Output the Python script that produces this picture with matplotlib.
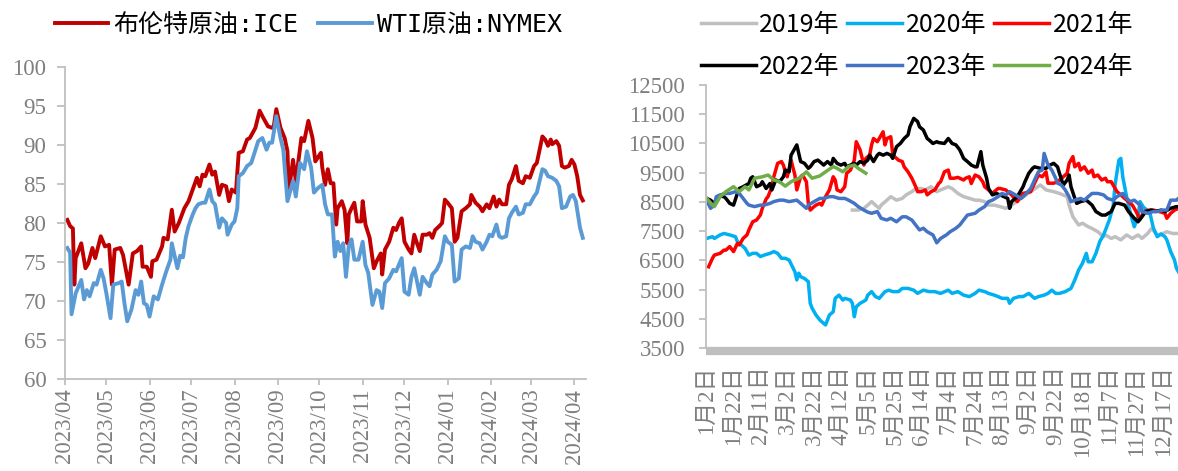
import numpy as np
import pandas as pd
import matplotlib
matplotlib.use("Agg")
import matplotlib.pyplot as plt
import matplotlib.dates as mdates
from matplotlib.font_manager import FontProperties

TICK_FAMILY = ["Liberation Serif", "DejaVu Serif", "Noto Sans CJK SC"]
plt.rcParams["font.family"] = TICK_FAMILY

# ─── 左图：布伦特 / WTI 原油价格 ─────────────────────────────────────────────
brent_dates = [
    "2023-04-03", "2023-04-05", "2023-04-07", "2023-04-08", "2023-04-09", "2023-04-13",
    "2023-04-16", "2023-04-18", "2023-04-21", "2023-04-23", "2023-04-27", "2023-04-30",
    "2023-05-03", "2023-05-05", "2023-05-07", "2023-05-11", "2023-05-13", "2023-05-17",
    "2023-05-20", "2023-05-23", "2023-05-26", "2023-05-27", "2023-05-30", "2023-06-02",
    "2023-06-03", "2023-06-06", "2023-06-10", "2023-06-11", "2023-06-14", "2023-06-17",
    "2023-06-19", "2023-06-22", "2023-06-26", "2023-06-29", "2023-07-02", "2023-07-05",
    "2023-07-07", "2023-07-09", "2023-07-11", "2023-07-14", "2023-07-16", "2023-07-18",
    "2023-07-21", "2023-07-23", "2023-07-26", "2023-07-28", "2023-07-30", "2023-08-02",
    "2023-08-04", "2023-08-07", "2023-08-10", "2023-08-12", "2023-08-16", "2023-08-19",
    "2023-08-21", "2023-08-25", "2023-08-28", "2023-08-29", "2023-08-31", "2023-09-03",
    "2023-09-06", "2023-09-08", "2023-09-09", "2023-09-12", "2023-09-14", "2023-09-18",
    "2023-09-20", "2023-09-23", "2023-09-26", "2023-09-28", "2023-10-02", "2023-10-03",
    "2023-10-05", "2023-10-07", "2023-10-09", "2023-10-11", "2023-10-13", "2023-10-14",
    "2023-10-17", "2023-10-19", "2023-10-21", "2023-10-22", "2023-10-24", "2023-10-26",
    "2023-10-28", "2023-10-31", "2023-11-01", "2023-11-03", "2023-11-06", "2023-11-09",
    "2023-11-11", "2023-11-14", "2023-11-15", "2023-11-17", "2023-11-20", "2023-11-23",
    "2023-11-25", "2023-11-27", "2023-11-29", "2023-12-01", "2023-12-04", "2023-12-06",
    "2023-12-08", "2023-12-10", "2023-12-12", "2023-12-14", "2023-12-17", "2023-12-19",
    "2023-12-21", "2023-12-23", "2023-12-26", "2023-12-28", "2023-12-30", "2024-01-01",
    "2024-01-04", "2024-01-06", "2024-01-08", "2024-01-11", "2024-01-14", "2024-01-17",
    "2024-01-18", "2024-01-21", "2024-01-24", "2024-01-26", "2024-01-29", "2024-01-31",
    "2024-02-03", "2024-02-05", "2024-02-07", "2024-02-09", "2024-02-12", "2024-02-14",
    "2024-02-16", "2024-02-19", "2024-02-21", "2024-02-24", "2024-02-26", "2024-02-29",
    "2024-03-03", "2024-03-05", "2024-03-07", "2024-03-09", "2024-03-11", "2024-03-13",
    "2024-03-15", "2024-03-16", "2024-03-19", "2024-03-21", "2024-03-23", "2024-03-25",
    "2024-03-28", "2024-03-30", "2024-04-01", "2024-04-03", "2024-04-05", "2024-04-07",
]
brent = [
    80.4, 79.6, 79.3, 72.1, 75.5, 77.4, 74.2, 74.8, 76.8, 75.5, 78.3, 77.0,
    77.2, 72.1, 76.6, 76.8, 75.9, 72.1, 76.1, 76.4, 77.0, 74.4, 74.4, 73.1,
    75.1, 75.3, 77.0, 78.1, 77.9, 81.7, 78.9, 80.0, 81.9, 82.8, 84.3, 85.8,
    84.7, 86.2, 86.0, 87.5, 86.2, 86.6, 83.6, 84.9, 84.7, 82.8, 84.3, 83.9,
    89.0, 89.2, 90.7, 90.9, 92.2, 94.4, 93.7, 92.4, 92.2, 92.2, 94.6, 92.2,
    90.9, 89.2, 84.1, 88.1, 85.4, 90.9, 90.5, 93.1, 90.9, 87.9, 89.0, 87.1,
    84.9, 86.9, 85.1, 85.1, 79.8, 81.9, 82.8, 81.7, 77.4, 81.1, 81.9, 82.6,
    80.2, 80.2, 82.8, 79.8, 78.1, 74.2, 75.1, 76.1, 73.4, 76.6, 77.6, 79.4,
    79.1, 80.0, 80.6, 77.6, 76.6, 76.1, 78.5, 77.4, 76.4, 78.5, 78.5, 78.7,
    78.1, 79.1, 79.6, 80.0, 83.0, 82.6, 81.9, 77.6, 78.1, 81.5, 81.9, 82.4,
    83.6, 82.6, 82.1, 81.5, 82.4, 81.9, 83.4, 82.1, 83.0, 82.4, 82.4, 84.9,
    85.6, 87.3, 85.4, 85.1, 86.0, 85.8, 87.3, 87.7, 89.4, 91.1, 90.7, 89.9,
    90.7, 90.1, 90.5, 89.9, 87.3, 87.1, 87.3, 88.1, 87.5, 86.0, 83.6, 82.9,
]

wti_dates = [
    "2023-04-03", "2023-04-05", "2023-04-06", "2023-04-09", "2023-04-13", "2023-04-15",
    "2023-04-17", "2023-04-19", "2023-04-22", "2023-04-24", "2023-04-27", "2023-04-29",
    "2023-05-01", "2023-05-04", "2023-05-06", "2023-05-10", "2023-05-12", "2023-05-14",
    "2023-05-16", "2023-05-19", "2023-05-22", "2023-05-24", "2023-05-26", "2023-05-28",
    "2023-05-30", "2023-06-01", "2023-06-04", "2023-06-07", "2023-06-10", "2023-06-13",
    "2023-06-16", "2023-06-17", "2023-06-21", "2023-06-23", "2023-06-25", "2023-06-27",
    "2023-06-29", "2023-07-02", "2023-07-04", "2023-07-06", "2023-07-09", "2023-07-11",
    "2023-07-14", "2023-07-16", "2023-07-18", "2023-07-21", "2023-07-23", "2023-07-26",
    "2023-07-27", "2023-07-30", "2023-08-01", "2023-08-03", "2023-08-04", "2023-08-07",
    "2023-08-10", "2023-08-13", "2023-08-15", "2023-08-18", "2023-08-21", "2023-08-24",
    "2023-08-26", "2023-08-28", "2023-08-31", "2023-09-03", "2023-09-05", "2023-09-08",
    "2023-09-10", "2023-09-12", "2023-09-14", "2023-09-17", "2023-09-20", "2023-09-22",
    "2023-09-25", "2023-09-27", "2023-09-30", "2023-10-03", "2023-10-05", "2023-10-07",
    "2023-10-10", "2023-10-12", "2023-10-14", "2023-10-16", "2023-10-18", "2023-10-20",
    "2023-10-22", "2023-10-24", "2023-10-26", "2023-10-29", "2023-11-01", "2023-11-03",
    "2023-11-05", "2023-11-08", "2023-11-11", "2023-11-13", "2023-11-15", "2023-11-17",
    "2023-11-20", "2023-11-23", "2023-11-25", "2023-11-29", "2023-12-01", "2023-12-04",
    "2023-12-06", "2023-12-08", "2023-12-10", "2023-12-12", "2023-12-14", "2023-12-17",
    "2023-12-19", "2023-12-21", "2023-12-24", "2023-12-27", "2023-12-30", "2024-01-01",
    "2024-01-04", "2024-01-06", "2024-01-09", "2024-01-11", "2024-01-14", "2024-01-17",
    "2024-01-19", "2024-01-21", "2024-01-24", "2024-01-26", "2024-01-29", "2024-01-31",
    "2024-02-02", "2024-02-05", "2024-02-07", "2024-02-09", "2024-02-12", "2024-02-14",
    "2024-02-16", "2024-02-19", "2024-02-21", "2024-02-24", "2024-02-26", "2024-02-29",
    "2024-03-03", "2024-03-05", "2024-03-07", "2024-03-09", "2024-03-11", "2024-03-13",
    "2024-03-16", "2024-03-19", "2024-03-21", "2024-03-23", "2024-03-26", "2024-03-29",
    "2024-03-31", "2024-04-02", "2024-04-05", "2024-04-07",
]
wti = [
    76.8, 76.2, 68.3, 71.0, 72.7, 70.2, 71.4, 70.6, 72.3, 72.1, 74.0, 72.9,
    71.0, 67.8, 72.1, 72.3, 72.5, 69.7, 67.4, 68.9, 71.4, 70.8, 72.5, 69.7,
    69.5, 68.0, 70.6, 70.2, 72.1, 73.8, 75.3, 77.4, 74.2, 75.8, 75.6, 78.1,
    79.6, 81.1, 81.9, 82.4, 82.6, 82.6, 84.3, 82.8, 82.4, 79.4, 80.6, 80.0,
    78.5, 79.8, 80.2, 81.9, 86.0, 86.4, 87.3, 87.7, 88.8, 90.5, 90.9, 89.4,
    90.3, 90.3, 93.7, 90.9, 89.4, 82.8, 84.1, 85.4, 83.4, 87.7, 86.9, 89.2,
    87.1, 83.9, 84.5, 84.9, 82.4, 81.1, 81.1, 75.7, 77.6, 76.4, 77.4, 73.1,
    77.0, 77.9, 75.3, 75.3, 77.6, 74.6, 73.6, 69.5, 71.4, 71.2, 69.1, 72.3,
    72.9, 74.0, 73.8, 75.5, 71.2, 70.8, 73.1, 74.2, 72.5, 70.8, 73.1, 72.3,
    71.9, 73.4, 74.0, 75.1, 78.3, 77.6, 77.2, 72.5, 72.9, 76.6, 77.0, 76.8,
    78.3, 77.6, 77.4, 76.6, 77.6, 78.5, 78.3, 79.8, 78.3, 78.1, 78.3, 80.6,
    81.3, 82.1, 81.1, 81.3, 82.4, 82.4, 83.4, 83.9, 85.4, 86.9, 86.7, 86.0,
    85.8, 85.4, 84.7, 81.9, 82.1, 83.4, 83.6, 82.8, 79.4, 78.1,
]

# ─── 右图：分年度季节性走势（按交易日序号） ───────────────────────────────────
tick_labels = ["1月2日", "1月22日", "2月11日", "3月2日", "3月22日", "4月12日",
               "5月5日", "5月25日", "6月14日", "7月4日", "7月24日", "8月13日",
               "9月2日", "9月22日", "10月18日", "11月7日", "11月27日", "12月17日"]

d2019 = [76, 79, 82, 84, 86, 88, 90, 91, 94, 96, 99, 102, 104, 107, 109, 112, 114, 117,
         120, 122, 126, 128, 131, 134, 137, 140, 142, 145, 147, 150, 153, 156, 159, 164,
         169, 174, 177, 181, 184, 188, 189, 191, 194, 196, 199, 201, 204, 207, 208, 211,
         213, 216, 219, 222, 225, 227, 230, 232, 235, 238, 240, 243, 246, 250]
v2019 = [8220, 8220, 8280, 8390, 8510, 8390, 8280, 8390, 8560, 8680, 8560, 8620, 8740,
         8850, 8960, 8960, 8910, 9020, 8850, 8910, 9020, 8960, 8790, 8680, 8620, 8560,
         8560, 8510, 8390, 8390, 8340, 8280, 8390, 8620, 8850, 9080, 8910, 8850, 8790,
         8680, 8390, 7990, 7710, 7770, 7650, 7590, 7480, 7310, 7370, 7250, 7310, 7200,
         7370, 7250, 7370, 7250, 7420, 7590, 7370, 7420, 7480, 7420, 7420, 7450]

d2020 = [0, 3, 4, 7, 9, 12, 15, 16, 18, 20, 22, 24, 26, 28, 30, 33, 35, 37, 39, 41, 43,
         46, 47, 48, 49, 51, 53, 54, 55, 57, 59, 60, 62, 64, 66, 67, 69, 71, 72, 75, 76,
         77, 78, 80, 83, 84, 86, 88, 90, 93, 95, 97, 100, 102, 105, 108, 110, 113, 116,
         119, 122, 126, 128, 131, 134, 137, 140, 142, 145, 147, 150, 152, 154, 157, 158,
         160, 163, 165, 168, 171, 173, 176, 178, 180, 182, 184, 187, 190, 192, 194, 196,
         198, 199, 201, 203, 205, 207, 208, 210, 212, 213, 215, 216, 217, 219, 221, 223,
         225, 226, 228, 231, 233, 235, 237, 239, 240, 242, 244, 245, 247]
v2020 = [7250, 7310, 7250, 7370, 7420, 7370, 7310, 7140, 7030, 6910, 6680, 6740, 6740,
         6630, 6680, 6740, 6800, 6740, 6570, 6570, 6510, 6110, 5830, 6060, 5940, 5880,
         5770, 5030, 4860, 4630, 4460, 4400, 4290, 4630, 4740, 5200, 5310, 5140, 5200,
         5140, 5030, 4570, 4910, 5030, 5140, 5310, 5430, 5260, 5200, 5430, 5480, 5430,
         5430, 5540, 5540, 5480, 5370, 5480, 5430, 5430, 5370, 5480, 5370, 5430, 5310,
         5260, 5370, 5480, 5430, 5370, 5310, 5260, 5200, 5200, 5030, 5200, 5260, 5260,
         5370, 5200, 5260, 5310, 5370, 5480, 5370, 5370, 5430, 5540, 5830, 6170, 6400,
         6740, 6450, 6450, 6740, 7140, 7370, 7540, 7880, 8350, 9100, 9930, 9990, 9360,
         8680, 8110, 7650, 8000, 8510, 8300, 8170, 7600, 7310, 7400, 7310, 7200, 6800,
         6510, 6230, 6000]

d2021 = [1, 3, 4, 7, 9, 10, 12, 14, 16, 17, 19, 21, 22, 24, 26, 28, 29, 31, 32, 34, 35,
         37, 39, 40, 41, 42, 44, 46, 47, 49, 50, 52, 53, 54, 56, 57, 59, 60, 62, 64, 66,
         67, 68, 70, 72, 73, 75, 77, 78, 80, 82, 83, 85, 86, 87, 89, 90, 92, 93, 94, 96,
         97, 98, 100, 102, 103, 105, 107, 109, 110, 112, 114, 115, 117, 119, 121, 122,
         124, 126, 127, 129, 131, 134, 135, 137, 138, 140, 142, 144, 145, 147, 149, 150,
         152, 153, 156, 159, 162, 165, 169, 171, 173, 175, 177, 178, 181, 183, 186, 188,
         189, 191, 192, 194, 195, 197, 199, 201, 202, 204, 206, 208, 209, 211, 213, 214,
         216, 218, 220, 222, 224, 226, 228, 231, 233, 236, 239, 240, 242, 244, 246, 250]
v2021 = [6280, 6570, 6680, 6740, 6850, 6850, 6970, 6800, 7080, 7030, 7250, 7370, 7540,
         7820, 7880, 8050, 8280, 8600, 8680, 9020, 9360, 9820, 9880, 9760, 9530, 9360,
         9930, 9420, 8910, 9360, 9420, 9190, 8450, 8220, 8340, 8390, 8450, 8390, 8680,
         8910, 9360, 9250, 8910, 8850, 9020, 9480, 9590, 9930, 10560, 10280, 9760, 9990,
         10100, 10450, 10670, 10560, 10670, 10900, 10450, 10670, 10730, 10160, 10050,
         9930, 9880, 9700, 9530, 9310, 9020, 8850, 8850, 8910, 8740, 8850, 8910, 9130,
         9190, 9530, 9590, 9310, 9310, 9340, 9250, 9310, 9360, 9130, 9420, 9360, 9190,
         9020, 8910, 8790, 8850, 8960, 8960, 8910, 8740, 8510, 8790, 8850, 9140, 9420,
         9360, 9530, 9140, 9140, 9190, 9360, 9480, 9820, 10050, 9700, 9820, 9590, 9700,
         9480, 9590, 9360, 9420, 9250, 9310, 9190, 9190, 8960, 8850, 8740, 8620, 8510,
         8390, 8170, 7900, 8170, 8220, 8220, 8170, 8110, 7940, 8110, 8220, 8280, 8250]

d2022 = [0, 2, 4, 5, 7, 9, 10, 12, 14, 16, 17, 19, 22, 23, 24, 26, 28, 29, 31, 33, 34,
         36, 38, 40, 41, 43, 44, 47, 48, 49, 51, 53, 54, 56, 58, 60, 61, 63, 65, 66, 68,
         70, 72, 73, 75, 77, 78, 80, 82, 84, 85, 87, 89, 90, 92, 94, 96, 97, 99, 101,
         103, 105, 106, 108, 110, 111, 113, 115, 116, 118, 120, 121, 124, 126, 128, 130,
         132, 134, 136, 138, 140, 141, 143, 144, 146, 147, 149, 151, 153, 157, 158, 159,
         162, 165, 166, 168, 170, 171, 174, 177, 179, 181, 183, 184, 186, 188, 189, 190,
         192, 193, 195, 198, 201, 203, 206, 208, 211, 213, 215, 218, 220, 223, 225, 227,
         229, 232, 234, 237, 239, 242, 245, 250]
v2022 = [8620, 8560, 8450, 8560, 8700, 8680, 8620, 8450, 8390, 8790, 8960, 9020, 9130,
         9310, 9360, 9020, 9080, 9190, 8960, 9130, 8910, 9250, 9190, 9360, 9590, 9530,
         10100, 10450, 10160, 9880, 9820, 9650, 9700, 9880, 9930, 9820, 9760, 9880, 9760,
         9990, 9820, 9760, 9820, 9700, 9760, 9820, 9760, 9880, 9820, 9930, 10100, 9880,
         10100, 10160, 10100, 10160, 10100, 9990, 10390, 10500, 10670, 10790, 11070,
         11360, 11250, 11070, 10960, 10670, 10620, 10500, 10560, 10530, 10500, 10670,
         10500, 10450, 10280, 9990, 9880, 9760, 9700, 9700, 10220, 9760, 9310, 8960, 8740,
         8790, 8740, 8620, 8280, 8510, 8680, 9020, 9190, 9480, 9650, 9700, 9650, 9650,
         9760, 9820, 9700, 9480, 9080, 9250, 9420, 9020, 8620, 8450, 8510, 8560, 8390,
         8170, 8050, 8050, 8170, 8450, 8450, 8390, 8170, 7940, 7820, 7990, 8170, 8220,
         8170, 8220, 8170, 8280, 8340, 8300]

d2023 = [0, 2, 4, 5, 7, 10, 12, 15, 17, 19, 21, 22, 25, 28, 30, 33, 35, 38, 40, 43, 47,
         49, 52, 53, 56, 59, 61, 64, 66, 69, 72, 74, 77, 79, 82, 84, 86, 89, 91, 94, 96,
         99, 102, 104, 107, 109, 111, 113, 115, 118, 120, 122, 125, 127, 130, 132, 134,
         136, 140, 142, 145, 147, 149, 152, 154, 156, 158, 161, 164, 166, 169, 171, 173,
         175, 176, 178, 180, 182, 183, 185, 187, 189, 190, 192, 195, 197, 199, 201, 204,
         207, 209, 212, 214, 217, 219, 221, 223, 226, 227, 230, 233, 235, 238, 240, 242,
         245, 246, 250]
v2023 = [8560, 8280, 8390, 8680, 8740, 8790, 8790, 8850, 8790, 8620, 8450, 8390, 8340,
         8390, 8390, 8450, 8510, 8560, 8560, 8510, 8560, 8450, 8280, 8390, 8510, 8620,
         8620, 8680, 8680, 8620, 8620, 8560, 8450, 8340, 8220, 8150, 8110, 8170, 7940,
         7880, 7940, 7820, 7990, 7990, 7880, 7710, 7540, 7600, 7480, 7370, 7100, 7250,
         7370, 7480, 7600, 7710, 7880, 8050, 8110, 8220, 8340, 8510, 8560, 8680, 8790,
         8740, 8850, 8740, 8620, 8740, 8960, 9250, 9530, 9590, 10160, 9760, 9590, 9310,
         9140, 9080, 8910, 8680, 8510, 8560, 8620, 8560, 8680, 8790, 8790, 8740, 8620,
         8560, 8680, 8790, 8620, 8510, 8560, 8390, 8170, 8110, 8170, 8170, 8220, 8220,
         8560, 8560, 8620, 8620]

d2024 = [0, 3, 4, 7, 10, 14, 17, 20, 22, 25, 29, 32, 35, 38, 41, 44, 49, 52, 55, 59, 62,
         66, 68, 71, 74, 77, 79, 83]
v2024 = [8620, 8390, 8340, 8680, 8850, 9020, 8850, 9020, 8910, 9310, 9360, 9420, 9250,
         9190, 9040, 9190, 9340, 9530, 9310, 9390, 9530, 9710, 9650, 9530, 9710, 9760,
         9650, 9480]

years = ["2019年", "2020年", "2021年", "2022年", "2023年", "2024年"]
year_days = [d2019, d2020, d2021, d2022, d2023, d2024]
year_vals = [v2019, v2020, v2021, v2022, v2023, v2024]
year_colors = ["#BFBFBF", "#00B0F0", "#FF0000", "#000000", "#4472C4", "#70AD47"]

AXIS_GREY = "#BFBFBF"
LABEL_GREY = "#7F7F7F"


def style_ticks(ax):
    for lbl in ax.get_xticklabels() + ax.get_yticklabels():
        lbl.set_fontfamily(TICK_FAMILY)


fig = plt.figure(figsize=(11.78, 4.71), dpi=100)

# ── 左图 ──
ax1 = fig.add_axes([0.0548, 0.1953, 0.4423, 0.6624])
l_brent, = ax1.plot(pd.to_datetime(brent_dates), brent, color="#C00000", lw=2.8,
                    solid_joinstyle="round", label="布伦特原油:ICE")
l_wti, = ax1.plot(pd.to_datetime(wti_dates), wti, color="#5B9BD5", lw=2.8,
                  solid_joinstyle="round", label="WTI原油:NYMEX")
ax1.set_ylim(60, 100)
ax1.set_yticks(np.arange(60, 101, 5))
ax1.set_xlim(pd.Timestamp("2023-04-01"), pd.Timestamp("2024-04-09"))
ax1.xaxis.set_major_locator(mdates.MonthLocator())
ax1.xaxis.set_major_formatter(mdates.DateFormatter("%Y/%m"))
for s in ["top", "right"]:
    ax1.spines[s].set_visible(False)
for s in ["left", "bottom"]:
    ax1.spines[s].set_color(AXIS_GREY)
    ax1.spines[s].set_linewidth(1.3)
ax1.tick_params(axis="both", direction="out", color=AXIS_GREY, width=1.3,
                labelcolor=LABEL_GREY, labelsize=16.5, labelfontfamily=TICK_FAMILY)
ax1.tick_params(axis="y", length=6, pad=7)
ax1.tick_params(axis="x", length=4, pad=3, labelrotation=90)

leg_font = FontProperties(family=["DejaVu Sans Mono", "Noto Sans CJK SC"], size=18)
fig.legend(handles=[l_brent, l_wti], loc="center left",
           bbox_to_anchor=(54.5 / 1178, 1 - 25 / 471), ncol=2, frameon=False,
           borderpad=0, borderaxespad=0, handlelength=2.15, handletextpad=0.2,
           columnspacing=0.8, prop=leg_font)

# ── 右图 ──
ax2 = fig.add_axes([0.5991, 0.2611, 0.4077, 0.5584])
handles = []
for name, dd, vv, c in zip(years, year_days, year_vals, year_colors):
    h, = ax2.plot(dd, vv, color=c, lw=2.5, solid_joinstyle="round", label=name)
    handles.append(h)
ax2.set_ylim(3500, 12500)
ax2.set_yticks(np.arange(3500, 12501, 1000))
ax2.set_xlim(-0.5, 250)
ax2.set_xticks(np.arange(len(tick_labels)) * 14)
ax2.set_xticklabels(tick_labels)
for s in ["top", "right"]:
    ax2.spines[s].set_visible(False)
ax2.spines["left"].set_color(AXIS_GREY)
ax2.spines["left"].set_linewidth(1.3)
ax2.spines["bottom"].set_color(AXIS_GREY)
ax2.spines["bottom"].set_linewidth(6)
ax2.spines["bottom"].set_capstyle("butt")
ax2.spines["bottom"].set_position(("outward", 2.5))
ax2.tick_params(axis="both", direction="out", color=AXIS_GREY, width=1.3,
                labelcolor=LABEL_GREY, labelsize=16.5, labelfontfamily=TICK_FAMILY)
ax2.tick_params(axis="y", length=5, pad=10)
ax2.tick_params(axis="x", length=0, pad=10, labelrotation=90)

style_ticks(ax1)
style_ticks(ax2)

leg_font2 = FontProperties(family=["Noto Sans CJK SC", "DejaVu Sans"], size=18)
for row, y_px in zip([handles[:3], handles[3:]], [25, 66.7]):
    fig.legend(handles=row, loc="center left",
               bbox_to_anchor=(700.6 / 1178, 1 - y_px / 471), ncol=3, frameon=False,
               borderpad=0, borderaxespad=0, handlelength=2.2, handletextpad=0.15,
               columnspacing=0.3, prop=leg_font2)

fig.savefig("out.png", dpi=100)
